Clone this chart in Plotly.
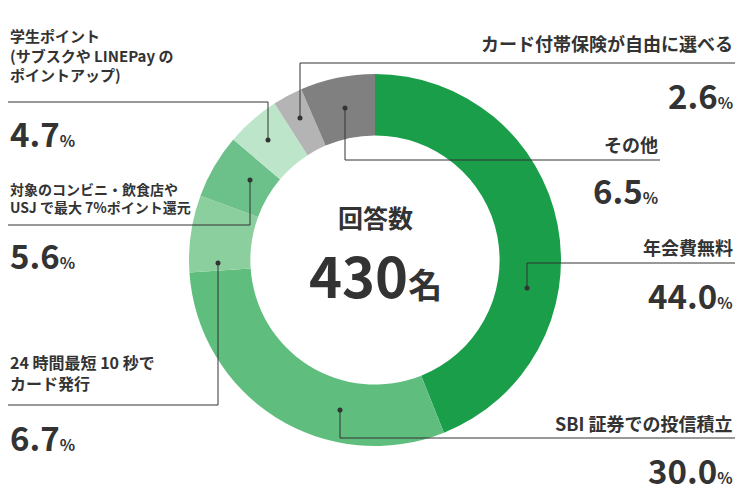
import plotly.graph_objects as go

labels = ["年会費無料", "SBI 証券での投信積立", "24 時間最短 10 秒でカード発行",
          "対象のコンビニ・飲食店やUSJ で最大 7%ポイント還元",
          "学生ポイント（サブスクや LINEPay のポイントアップ）",
          "カード付帯保険が自由に選べる", "その他"]
values = [44.0, 30.0, 6.7, 5.6, 4.7, 2.6, 6.5]
colors = ["#1a9e4a", "#5fbd7d", "#8ccf9f", "#6cc08a", "#bde5c9", "#b4b4b4", "#808080"]
total = 430

W, H = 750, 500
FONT = "Noto Sans CJK JP"
def px(x): return (x - 8) / W
def py(y): return 1 - (y - 3) / H

fig = go.Figure(go.Pie(
    labels=labels, values=values, sort=False, direction="clockwise", rotation=0,
    hole=0.67, marker=dict(colors=colors, line=dict(width=0)), textinfo="none",
    hoverinfo="label+percent", showlegend=False,
    domain=dict(x=[px(189), px(561)], y=[py(441), py(69)])))

shapes, ann = [], []
def path(pts):
    d = "M " + " L ".join(f"{px(x)},{py(y)}" for x, y in pts)
    shapes.append(dict(type="path", path=d, xref="paper", yref="paper",
                       line=dict(color="#333", width=1)))
    x0, y0 = pts[0]
    shapes.append(dict(type="circle", xref="paper", yref="paper",
                       x0=px(x0 - 2.5), x1=px(x0 + 2.5), y0=py(y0 + 2.5), y1=py(y0 - 2.5),
                       fillcolor="#333", line=dict(width=0)))
def text(x, y, s, size, anchor):
    ann.append(dict(x=px(x), y=py(y), xref="paper", yref="paper", text=s, showarrow=False,
                    xanchor=anchor, yanchor="middle", align=anchor if anchor != "center" else "center",
                    font=dict(family=FONT, size=size, color="#333")))
def pct(x, y, v, anchor):
    text(x, y, f"<b>{v:.1f}</b><span style='font-size:16px'><b>%</b></span>", 33, anchor)

path([(527, 283), (527, 258), (735, 258)])
text(735, 242, "<b>" + labels[0] + "</b>", 18, "right"); pct(735, 290, values[0], "right")
path([(340, 405), (340, 433), (735, 433)])
text(735, 418, "<b>" + labels[1] + "</b>", 18, "right"); pct(735, 465, values[1], "right")
path([(218, 258), (218, 400), (5, 400)])
text(8, 367, "<b>24 時間最短 10 秒で<br>カード発行</b>", 16, "left"); pct(8, 432, values[2], "left")
path([(250, 175), (250, 220), (5, 220)])
text(8, 193, "<b>対象のコンビニ・飲食店や<br>USJ で最大 7%ポイント還元</b>", 14, "left"); pct(8, 250, values[3], "left")
path([(268, 135), (268, 97), (5, 97)])
text(8, 50, "<b>学生ポイント<br>(サブスクや LINEPay の<br>ポイントアップ)</b>", 15, "left"); pct(8, 128, values[4], "left")
path([(300, 113), (300, 58), (735, 58)])
text(735, 38, "<b>" + labels[5] + "</b>", 18, "right"); pct(735, 90, values[5], "right")
path([(345, 103), (345, 155), (660, 155)])
text(660, 139, "<b>" + labels[6] + "</b>", 18, "right"); pct(660, 185, values[6], "right")

text(375, 212, "<b>回答数</b>", 25, "center")
text(375, 268, f"<b>{total}</b><span style='font-size:34px'><b>名</b></span>", 56, "center")

fig.update_layout(width=W, height=H, margin=dict(l=0, r=0, t=0, b=0),
                  paper_bgcolor="white", plot_bgcolor="white",
                  shapes=shapes, annotations=ann, font=dict(family=FONT))
fig.write_html("out.html")
